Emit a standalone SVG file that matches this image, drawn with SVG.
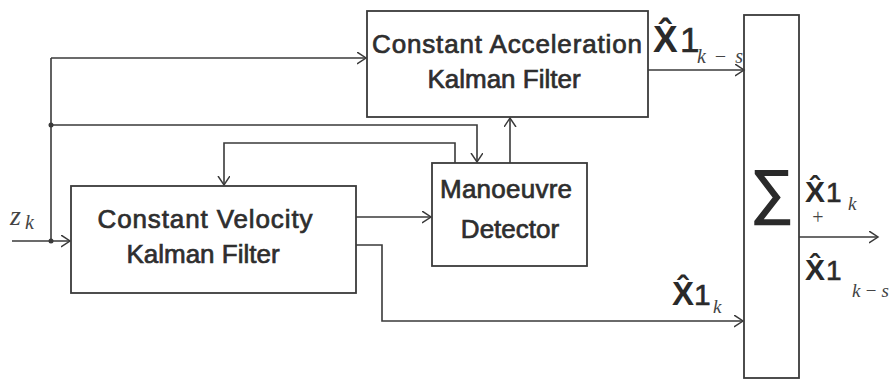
<svg xmlns="http://www.w3.org/2000/svg" width="891" height="380" viewBox="0 0 891 380">
<defs>
<marker id="arr" markerUnits="userSpaceOnUse" markerWidth="12" markerHeight="14" refX="9" refY="6" orient="auto">
<path d="M0,0 L9,6 L0,12" fill="none" stroke="#3a3a3a" stroke-width="1.5"/>
</marker>
</defs>
<style>
.box{fill:none;stroke:#3a3a3a;stroke-width:1.8}
.ln{fill:none;stroke:#3a3a3a;stroke-width:1.6}
.lbl{font-family:"Liberation Sans",Arial,sans-serif;fill:#2e2e2e;stroke:#2e2e2e;stroke-width:0.7;font-size:26px;text-anchor:middle}
.X{font-family:"Liberation Sans",Arial,sans-serif;font-weight:bold;fill:#2a2a2a}
.one{font-family:"Liberation Sans",Arial,sans-serif;fill:#2a2a2a;stroke:#2a2a2a;stroke-width:0.6}
.it{font-family:"Liberation Serif","Times New Roman",serif;font-style:italic;fill:#444}
</style>
<rect width="891" height="380" fill="#ffffff"/>
<g id="connectors">
<path class="ln" d="M51,58 L51,241"/>
<path class="ln" d="M51,58 L366,58" marker-end="url(#arr)"/>
<path class="ln" d="M51,125 L477,125 L477,162" marker-end="url(#arr)"/>
<path class="ln" d="M455,163 L455,143 L224,143 L224,185" marker-end="url(#arr)"/>
<path class="ln" d="M510,163 L510,118" marker-end="url(#arr)"/>
<path class="ln" d="M12,241 L70,241" marker-end="url(#arr)"/>
<path class="ln" d="M356,217 L431,217" marker-end="url(#arr)"/>
<path class="ln" d="M356,245 L382,245 L382,321 L743,321" marker-end="url(#arr)"/>
<path class="ln" d="M648,70 L744,70" marker-end="url(#arr)"/>
<path class="ln" d="M799,237 L878,237" marker-end="url(#arr)"/>
<circle cx="51" cy="125" r="2.5" fill="#3a3a3a"/>
<circle cx="51" cy="241" r="2.5" fill="#3a3a3a"/>
</g>
<g id="ca">
<rect class="box" x="367" y="11" width="281" height="106"/>
<text class="lbl" x="507" y="53" font-size="27" textLength="270">Constant Acceleration</text>
<text class="lbl" x="504" y="88" font-size="27">Kalman Filter</text>
</g>
<g id="cv">
<rect class="box" x="71" y="186" width="285" height="107"/>
<text class="lbl" x="205" y="228" textLength="215">Constant Velocity</text>
<text class="lbl" x="203" y="263">Kalman Filter</text>
</g>
<g id="md">
<rect class="box" x="432" y="163" width="155" height="103"/>
<text class="lbl" x="506" y="198" textLength="132">Manoeuvre</text>
<text class="lbl" x="510" y="238">Detector</text>
</g>
<g id="sum">
<rect class="box" x="744" y="15" width="55" height="363"/>
<text x="772" y="212" font-family="Liberation Sans, Arial, sans-serif" font-size="60" fill="#2a2a2a" stroke="#2a2a2a" stroke-width="1.5" text-anchor="middle">∑</text>
</g>
<g id="labels">
<text class="it" x="10" y="225" font-size="28">z</text>
<text class="it" x="25" y="229" font-size="20">k</text>
<text class="X" x="653" y="52" font-size="37">X̂</text>
<text class="one" x="680" y="52" font-size="35">1</text>
<text class="it" x="697" y="63" font-size="20" textLength="46">k − s</text>
<text class="X" x="805" y="202" font-size="30">X̂</text>
<text class="one" x="826" y="202" font-size="28">1</text>
<text class="it" x="848" y="210" font-size="19">k</text>
<text x="818" y="224" font-family="Liberation Serif, serif" font-size="20" fill="#444" text-anchor="middle">+</text>
<text class="X" x="805" y="280" font-size="30">X̂</text>
<text class="one" x="826" y="280" font-size="28">1</text>
<text class="it" x="852" y="297" font-size="19" textLength="37">k − s</text>
<text class="X" x="672" y="305" font-size="33">X̂</text>
<text class="one" x="694" y="305" font-size="30">1</text>
<text class="it" x="713" y="313" font-size="19">k</text>
</g>
</svg>
